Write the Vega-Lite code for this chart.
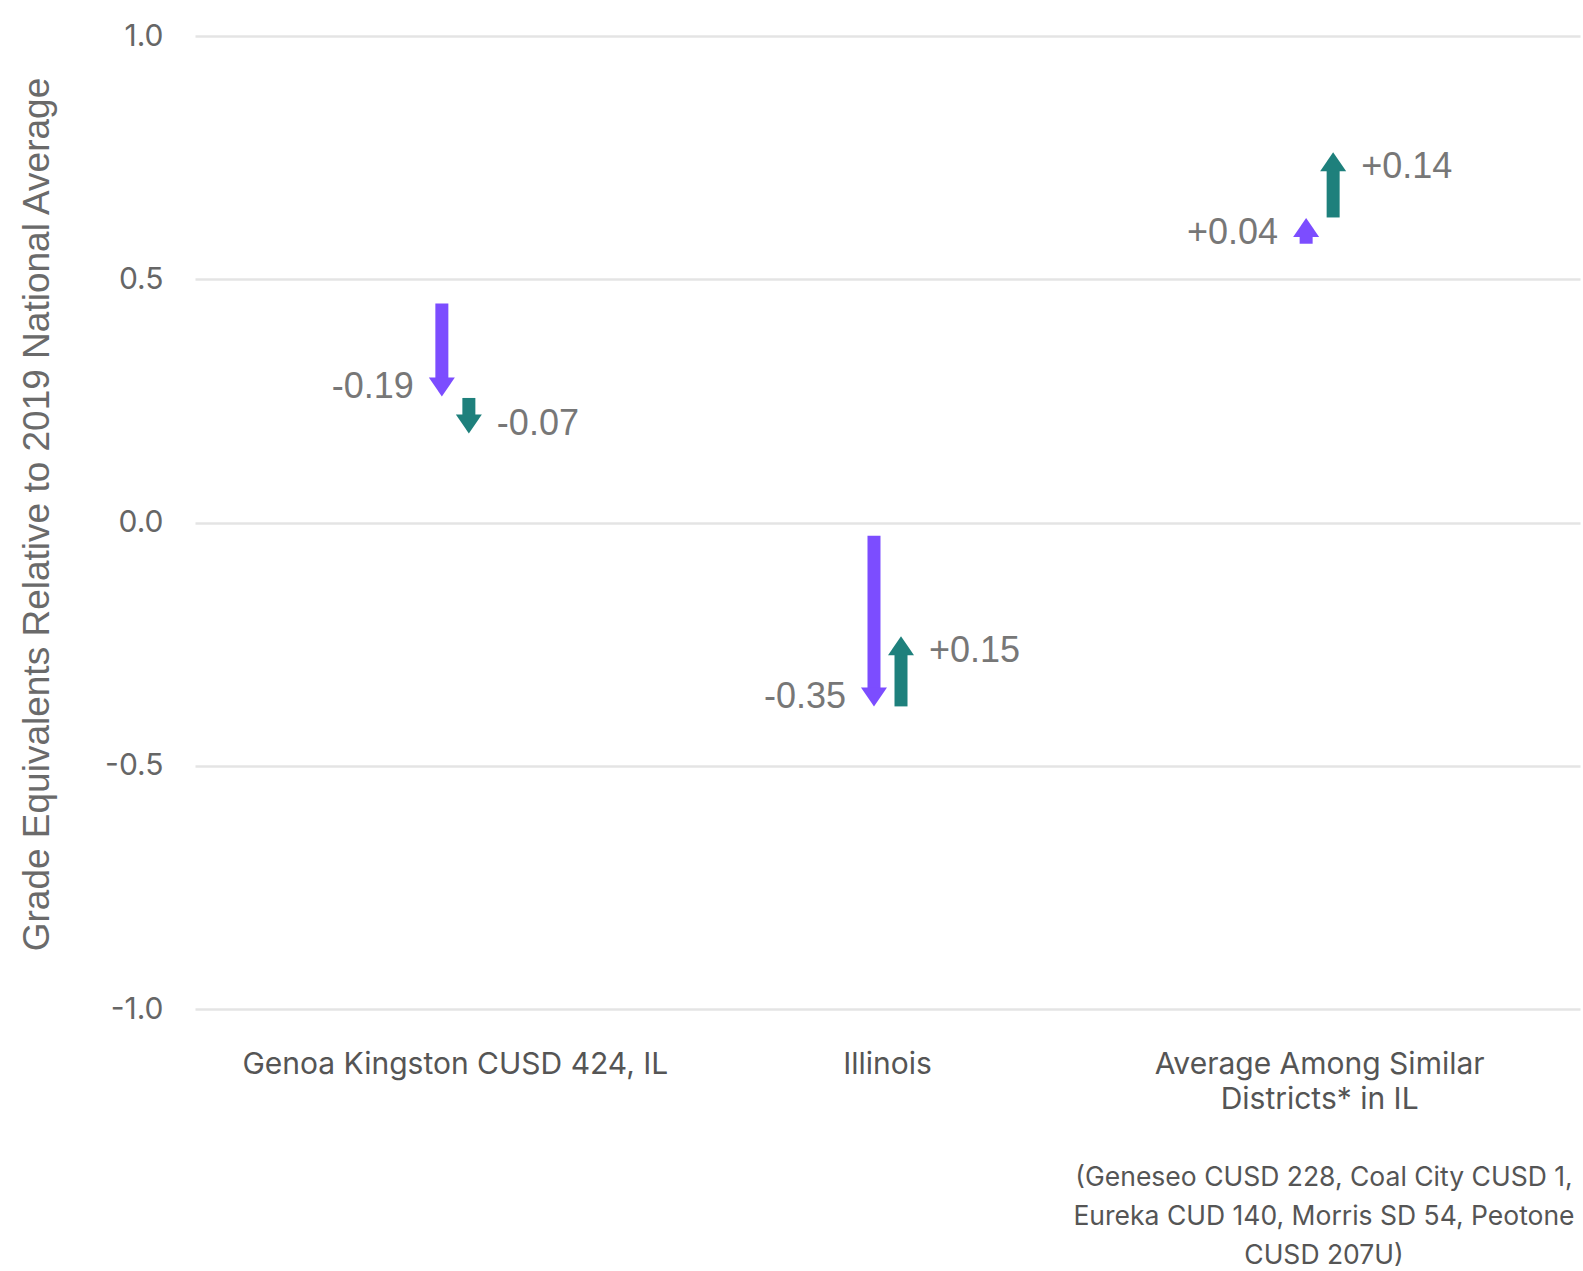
{
  "$schema": "https://vega.github.io/schema/vega-lite/v6.json",
  "width": 1385,
  "height": 973,
  "autosize": "none",
  "padding": {"left": 195, "top": 36, "right": 3, "bottom": 262},
  "background": "white",
  "config": {"view": {"stroke": null}},
  "title": {
    "text": ["(Geneseo CUSD 228, Coal City CUSD 1,", "Eureka CUD 140, Morris SD 54, Peotone", "CUSD 207U)"],
    "orient": "bottom",
    "anchor": "end",
    "align": "center",
    "dx": -256,
    "offset": 51,
    "font": "Inter",
    "fontSize": 26.5,
    "fontWeight": "normal",
    "color": "#555555",
    "lineHeight": 39
  },
  "data": {
    "values": [
      {"group": "Genoa Kingston CUSD 424, IL", "phase": "first", "start": 0.45, "end": 0.259, "label": "-0.19", "dir": "down"},
      {"group": "Genoa Kingston CUSD 424, IL", "phase": "second", "start": 0.256, "end": 0.183, "label": "-0.07", "dir": "down"},
      {"group": "Illinois", "phase": "first", "start": -0.027, "end": -0.378, "label": "-0.35", "dir": "down"},
      {"group": "Illinois", "phase": "second", "start": -0.378, "end": -0.234, "label": "+0.15", "dir": "up"},
      {"group": "Average Among Similar Districts* in IL", "phase": "first", "start": 0.573, "end": 0.626, "label": "+0.04", "dir": "up"},
      {"group": "Average Among Similar Districts* in IL", "phase": "second", "start": 0.627, "end": 0.761, "label": "+0.14", "dir": "up"}
    ]
  },
  "encoding": {
    "x": {
      "field": "group",
      "type": "nominal",
      "sort": ["Genoa Kingston CUSD 424, IL", "Illinois", "Average Among Similar Districts* in IL"],
      "scale": {"paddingInner": 0.875, "paddingOuter": 0.54},
      "axis": {
        "title": null,
        "labelAngle": 0,
        "domain": false,
        "ticks": false,
        "grid": false,
        "labelFont": "Inter",
        "labelFontSize": 30,
        "labelColor": "#555555",
        "labelPadding": 40,
        "labelLimit": 0,
        "labelLineHeight": 35.3,
        "labelExpr": "datum.label == 'Average Among Similar Districts* in IL' ? ['Average Among Similar', 'Districts* in IL'] : datum.label"
      }
    },
    "xOffset": {
      "field": "phase",
      "type": "nominal",
      "sort": ["first", "second"],
      "scale": {"paddingInner": 0, "paddingOuter": 0}
    }
  },
  "layer": [
    {
      "transform": [{"filter": "datum.dir == 'down'"}],
      "mark": {"type": "bar", "width": 13, "y2Offset": -18},
      "encoding": {
        "y": {
          "field": "start",
          "type": "quantitative",
          "scale": {"domain": [-1, 1], "nice": false, "zero": false},
          "axis": {
            "title": "Grade Equivalents Relative to 2019 National Average",
            "values": [-1, -0.5, 0, 0.5, 1],
            "labelExpr": "replace(format(datum.value, '.1f'), '\u2212', '-')",
            "grid": true,
            "gridColor": "#e4e4e4",
            "gridWidth": 2.5,
            "domain": false,
            "ticks": false,
            "labelPadding": 32,
            "labelFont": "Inter",
            "labelFontSize": 30,
            "labelColor": "#666666",
            "titleFont": "Liberation Sans",
            "titleFontSize": 37,
            "titleFontWeight": "normal",
            "titleColor": "#6a6a6a",
            "titleX": -158,
            "titleY": 478,
            "titleBaseline": "middle"
          }
        },
        "y2": {"field": "end"},
        "color": {"field": "phase", "type": "nominal", "scale": {"domain": ["first", "second"], "range": ["#7C4DFF", "#1E807C"]}, "legend": null}
      }
    },
    {
      "transform": [{"filter": "datum.dir == 'up'"}],
      "mark": {"type": "bar", "width": 13, "y2Offset": 18},
      "encoding": {
        "y": {"field": "start", "type": "quantitative"},
        "y2": {"field": "end"},
        "color": {"field": "phase", "type": "nominal", "legend": null}
      }
    },
    {
      "mark": {"type": "point", "filled": true, "size": 676, "opacity": 1, "strokeWidth": 0},
      "encoding": {
        "y": {"field": "end", "type": "quantitative"},
        "shape": {"field": "dir", "type": "nominal", "scale": {"domain": ["down", "up"], "range": ["M-1,-1.46L1,-1.46L0,0Z", "M-1,1.46L1,1.46L0,0Z"]}, "legend": null},
        "color": {"field": "phase", "type": "nominal", "legend": null}
      }
    },
    {
      "transform": [{"filter": "datum.phase == 'first' && datum.dir == 'down'"}],
      "mark": {"type": "text", "align": "right", "baseline": "middle", "dx": -28, "dy": -9, "font": "Liberation Sans", "fontSize": 36, "color": "#777777"},
      "encoding": {"y": {"field": "end", "type": "quantitative"}, "text": {"field": "label"}}
    },
    {
      "transform": [{"filter": "datum.phase == 'first' && datum.dir == 'up'"}],
      "mark": {"type": "text", "align": "right", "baseline": "middle", "dx": -28, "dy": 15, "font": "Liberation Sans", "fontSize": 36, "color": "#777777"},
      "encoding": {"y": {"field": "end", "type": "quantitative"}, "text": {"field": "label"}}
    },
    {
      "transform": [{"filter": "datum.phase == 'second' && datum.dir == 'down'"}],
      "mark": {"type": "text", "align": "left", "baseline": "middle", "dx": 28, "dy": -9, "font": "Liberation Sans", "fontSize": 36, "color": "#777777"},
      "encoding": {"y": {"field": "end", "type": "quantitative"}, "text": {"field": "label"}}
    },
    {
      "transform": [{"filter": "datum.phase == 'second' && datum.dir == 'up'"}],
      "mark": {"type": "text", "align": "left", "baseline": "middle", "dx": 28, "dy": 15, "font": "Liberation Sans", "fontSize": 36, "color": "#777777"},
      "encoding": {"y": {"field": "end", "type": "quantitative"}, "text": {"field": "label"}}
    }
  ]
}
